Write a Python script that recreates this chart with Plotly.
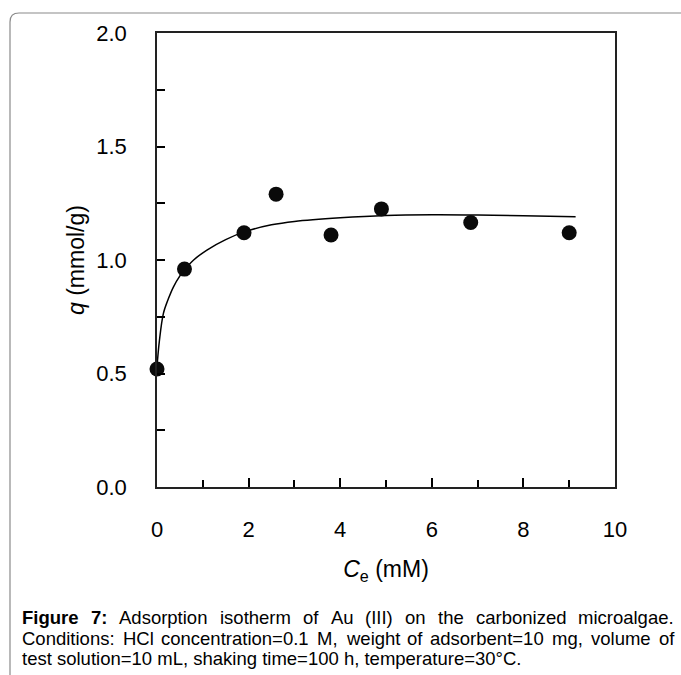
import plotly.graph_objects as go

# ---- data ----
ce_points = [0.0, 0.6, 1.9, 2.6, 3.8, 4.9, 6.85, 9.0]
q_points = [0.52, 0.96, 1.12, 1.29, 1.11, 1.225, 1.165, 1.12]

ce_curve = [0.0, 0.05, 0.14, 0.25, 0.36, 0.5, 0.61, 0.8, 1.09, 1.5, 1.92, 2.5, 3.0, 4.0, 5.0, 6.0, 7.0, 8.0, 9.14]
q_curve = [0.53, 0.64, 0.765, 0.83, 0.882, 0.93, 0.959, 1.0, 1.044, 1.09, 1.125, 1.155, 1.17, 1.186, 1.196, 1.199, 1.198, 1.195, 1.19]

x_ticks = [0, 2, 4, 6, 8, 10]
y_ticks = [0.0, 0.5, 1.0, 1.5, 2.0]

caption_line1 = [("Figure", True), ("7:", True), ("Adsorption", False), ("isotherm", False), ("of", False),
                 ("Au", False), ("(III)", False), ("on", False), ("the", False), ("carbonized", False),
                 ("microalgae.", False)]
caption_line2 = [("Conditions:", False), ("HCl", False), ("concentration=0.1", False), ("M,", False),
                 ("weight", False), ("of", False), ("adsorbent=10", False), ("mg,", False),
                 ("volume", False), ("of", False)]
caption_line3 = "test solution=10 mL, shaking time=100 h, temperature=30°C."

# ---- layout geometry ----
W, H = 681, 675
L, R, T, B = 157, 66, 33, 188
PW, PH = W - L - R, H - T - B


def px(xp):
    return (xp - L) / PW


def py(yp):
    return (H - B - yp) / PH


# Arial / Liberation Sans advance widths (per 1000 em)
REG = {' ': 278, '(': 333, ')': 333, ',': 278, '.': 278, '/': 278, ':': 278, '=': 584, '°': 400,
       'A': 667, 'C': 722, 'H': 722, 'I': 278, 'L': 556, 'M': 833, 'F': 611,
       'a': 556, 'b': 556, 'c': 500, 'd': 556, 'e': 556, 'f': 278, 'g': 556, 'h': 556, 'i': 222,
       'j': 222, 'k': 500, 'l': 222, 'm': 833, 'n': 556, 'o': 556, 'p': 556, 'q': 556, 'r': 333,
       's': 500, 't': 278, 'u': 556, 'v': 500, 'w': 722, 'x': 500, 'y': 500, 'z': 500}
for d in '0123456789':
    REG[d] = 556
BOLD = {'F': 611, 'i': 278, 'g': 611, 'u': 611, 'r': 389, 'e': 556, '7': 556, ':': 333, ' ': 278}


def text_w(s, bold, size):
    tab = BOLD if bold else REG
    return sum(tab.get(c, 556) for c in s) / 1000.0 * size


CAP_FONT = "Liberation Sans, Arial, sans-serif"
CAP_SIZE = 18.5
CAP_LEFT, CAP_RIGHT = 21, 673

fig = go.Figure()

fig.add_trace(go.Scatter(x=ce_curve, y=q_curve, mode="lines", line=dict(color="black", width=1.5, shape="spline"),
                         hoverinfo="skip", cliponaxis=False, showlegend=False))
fig.add_trace(go.Scatter(x=ce_points, y=q_points, mode="markers",
                         marker=dict(color="#0a0a0a", size=15, line=dict(width=0)),
                         cliponaxis=False, showlegend=False))

annotations = []


def justify(words, y_center):
    widths = [text_w(w, b, CAP_SIZE) for w, b in words]
    gap = (CAP_RIGHT - CAP_LEFT - sum(widths)) / (len(words) - 1)
    x = CAP_LEFT
    for (w, b), wd in zip(words, widths):
        annotations.append(dict(x=px(x), y=py(y_center), xref="paper", yref="paper", xanchor="left",
                                yanchor="middle", showarrow=False, borderpad=0,
                                text=("<b>%s</b>" % w) if b else w,
                                font=dict(family=CAP_FONT, size=CAP_SIZE, color="black")))
        x += wd + gap


justify(caption_line1, 617)
justify(caption_line2, 638)
annotations.append(dict(x=px(CAP_LEFT), y=py(658), xref="paper", yref="paper", xanchor="left",
                        yanchor="middle", showarrow=False, borderpad=0, text=caption_line3,
                        font=dict(family=CAP_FONT, size=CAP_SIZE, color="black")))

# frame with rounded top-left corner
fx, fy, rad = 10, 13, 9
frame_path = "M %f,%f L %f,%f Q %f,%f %f,%f L %f,%f" % (
    px(fx), py(H + 5), px(fx), py(fy + rad), px(fx), py(fy), px(fx + rad), py(fy), px(W + 5), py(fy))

fig.update_layout(
    width=W, height=H,
    margin=dict(l=L, r=R, t=T, b=B, autoexpand=False),
    paper_bgcolor="white", plot_bgcolor="white",
    font=dict(family="Liberation Sans, Arial, sans-serif", color="black"),
    annotations=annotations,
    shapes=[dict(type="path", path=frame_path, xref="paper", yref="paper",
                 line=dict(color="#8a8a8a", width=1.2))],
)

fig.update_xaxes(
    range=[0, 10], tickvals=x_ticks, ticktext=[str(v) for v in x_ticks],
    ticks="inside", ticklen=9, tickwidth=2, tickcolor="black",
    minor=dict(dtick=1, ticks="inside", ticklen=7, tickwidth=2, tickcolor="black", showgrid=False),
    showline=True, linecolor="#222", linewidth=1.5, mirror=True,
    showgrid=False, zeroline=False, tickfont=dict(size=22), ticklabelstandoff=22,
    title=dict(text="<i>C</i><sub>e</sub> (mM)", font=dict(size=23), standoff=20),
    automargin=False,
)
fig.update_yaxes(
    range=[0, 2], tickvals=y_ticks, ticktext=["%.1f" % v for v in y_ticks],
    ticks="inside", ticklen=8, tickwidth=2, tickcolor="black",
    minor=dict(dtick=0.25, ticks="inside", ticklen=8, tickwidth=2, tickcolor="black", showgrid=False),
    showline=True, linecolor="#222", linewidth=1.5, mirror=True,
    showgrid=False, zeroline=False, tickfont=dict(size=22), ticklabelstandoff=24,
    title=dict(text="<i>q</i> (mmol/g)", font=dict(size=23), standoff=5),
    automargin=False,
)

fig.write_html("out.html")
